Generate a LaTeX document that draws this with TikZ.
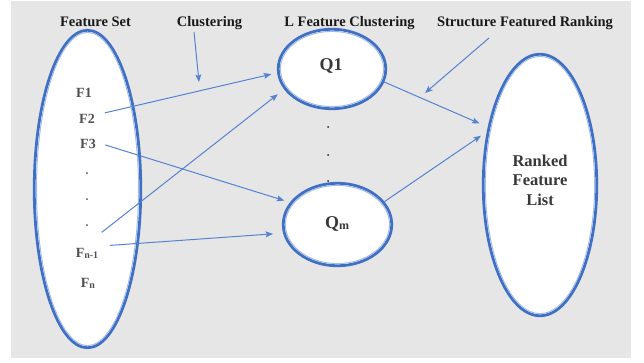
\documentclass[tikz,border=0pt]{standalone}
\usepackage{fontspec}
\setmainfont{Liberation Serif}
\usetikzlibrary{shapes.geometric,arrows.meta}
\definecolor{bg}{HTML}{E6E6E6}
\definecolor{edge}{HTML}{4070C4}
\definecolor{edgein}{HTML}{A3BBE4}
\definecolor{arr}{HTML}{5682D2}
\definecolor{lab}{HTML}{505050}
\definecolor{dark}{HTML}{383838}
\begin{document}
\begin{tikzpicture}[x=1pt,y=-1pt,
  blob/.style={ellipse, draw=edge, line width=2.8pt, fill=white, inner sep=0pt},
  inring/.style={draw=edgein, line width=1pt},
  head/.style={font=\fontsize{14.5}{16}\selectfont\bfseries, text=black!90, anchor=base},
  feat/.style={font=\fontsize{14}{16}\selectfont\bfseries, text=lab, anchor=base},
  qlab/.style={font=\fontsize{18}{20}\selectfont\bfseries, text=dark, anchor=base},
  rlab/.style={font=\fontsize{16.5}{19.5}\selectfont\bfseries, text=dark, align=center},
  link/.style={draw=arr, line width=1pt, -{Stealth[length=7.5pt,width=6pt,inset=1.5pt]}}]
\useasboundingbox (0,0) rectangle (644,362);
\fill[white] (0,0) rectangle (644,362);
\fill[bg] (11,1) rectangle (631,358);

% ellipses
\node[blob, minimum width=106.5pt, minimum height=317.5pt] (FS) at (87.5,189) {};
\draw[inring] (FS.center) ellipse [x radius=51pt, y radius=156.6pt];
\node[blob, minimum width=107.5pt, minimum height=79.5pt] (Q1) at (332,69) {};
\draw[inring] (Q1.center) ellipse [x radius=51.6pt, y radius=37.6pt];
\node[blob, minimum width=108.5pt, minimum height=82.5pt] (Qm) at (337.5,224.5) {};
\draw[inring] (Qm.center) ellipse [x radius=52.1pt, y radius=39.1pt];
\node[blob, minimum width=113.5pt, minimum height=261.5pt] (R) at (540,185) {};
\draw[inring] (R.center) ellipse [x radius=54.6pt, y radius=128.6pt];

% headers
\node[head] (hFS) at (95.5,26) {Feature Set};
\node[head] (hCl) at (209.5,26) {Clustering};
\node[head] (hLF) at (349.5,26) {L Feature Clustering};
\node[head] (hSF) at (525,26) {Structure Featured Ranking};

% feature labels
\node[feat] (F1) at (84,97) {F1};
\node[feat] (F2) at (87,123) {F2};
\node[feat] (F3) at (88,148) {F3};
\node[feat] (Fn1) at (87,257) {F\raisebox{-1pt}{\fontsize{10}{10}\selectfont n-1}};
\node[feat] (Fn) at (88,287) {F\raisebox{-1pt}{\fontsize{10}{10}\selectfont n}};
\fill[lab] (87,173) circle (1pt);
\fill[lab] (87,199) circle (1pt);
\fill[lab] (87,225) circle (1pt);

% cluster labels
\node[qlab] (Q1t) at (331,70) {Q1};
\node[qlab] (Qmt) at (337,228) {Q\raisebox{-1pt}{\fontsize{12}{12}\selectfont m}};
\fill[black!85] (328,127) circle (1pt);
\fill[black!85] (328,155) circle (1pt);
\fill[black!85] (328,181) circle (1pt);

% ranked list
\node[rlab] (Rt) at (540,180) {Ranked\\Feature\\List};

% connectors
\coordinate (c1) at (194,32);
\coordinate (c2) at (199,82);
\draw[link] (c1) -- (c2);
\coordinate (s1) at (489,38);
\coordinate (s2) at (425,93);
\draw[link] (s1) -- (s2);

\draw[link, shorten >=6pt] ([shift={(6.5,-5.5)}]F2.east) -- (Q1.184);
\draw[link, shorten >=8pt] ([shift={(0,-12)}]Fn1.north east) -- (Q1.203.6);
\draw[link, shorten >=6pt] ([shift={(6,1.5)}]F3.east) -- (Qm.155);
\draw[link, shorten >=10pt] ([shift={(8,-7.5)}]Fn1.east) -- (Qm.189);
\draw[link, shorten >=9pt] (Q1.-14) -- (R.132);
\draw[link, shorten >=7pt] (Qm.26) -- (R.135.5);
\end{tikzpicture}
\end{document}
